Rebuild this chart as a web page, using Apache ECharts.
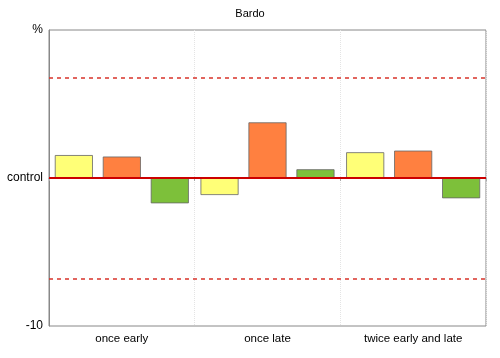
<!DOCTYPE html>
<html><head><meta charset="utf-8">
<script src="https://cdn.jsdelivr.net/npm/echarts@6/dist/echarts.min.js"></script>
<style>html,body{margin:0;padding:0;background:#fff}#c{width:500px;height:358px}</style>
</head><body><div id="c"></div>
<script>
var title = "Bardo";
var categories = ["once early", "once late", "twice early and late"];
var yellowValues = [1.55, -1.15, 1.74];
var orangeValues = [1.45, 3.76, 1.85];
var greenValues = [-1.71, 0.59, -1.37];
var thresholdValues = [6.78, -6.78];
var controlValue = 0;
var yTickLabels = {"10": "%", "0": "control", "-10": "-10"};

var chart = echarts.init(document.getElementById('c'));
var borderStyle = {borderColor: '#666', borderWidth: 0.8};
function barSeries(data, color) {
  return {type: 'bar', data: data, barGap: '26%', barCategoryGap: '8%',
    itemStyle: Object.assign({color: color}, borderStyle), silent: true};
}
var s1 = barSeries(yellowValues, '#FFFF77');
s1.markLine = {silent: true, symbol: 'none', label: {show: false},
  data: thresholdValues.map(function (v) { return {yAxis: v, lineStyle: {color: '#D8332A', type: [4, 4], width: 1.5}}; })
    .concat([{yAxis: controlValue, lineStyle: {color: '#CC0000', type: 'solid', width: 2}}])};
s1.markLine.z = 5;
chart.setOption({
  animation: false,
  title: {text: title, left: 'center', top: 3, textStyle: {fontSize: 11, fontWeight: 'normal', color: '#000', fontFamily: 'Liberation Sans'}},
  grid: {left: 49, right: 14, top: 30, bottom: 32, show: true, borderColor: '#888', borderWidth: 1},
  xAxis: {type: 'category', data: categories,
    axisLine: {show: true, lineStyle: {color: '#888'}},
    axisTick: {show: true, alignWithLabel: false, length: 3, lineStyle: {color: '#aaa'}},
    splitLine: {show: true, lineStyle: {color: '#e4e4e4', type: 'dotted'}},
    axisLabel: {color: '#000', fontSize: 11.5, fontFamily: 'Liberation Sans', margin: 7}},
  yAxis: {type: 'value', min: -10, max: 10, interval: 10,
    axisLine: {show: true, lineStyle: {color: '#888'}},
    axisTick: {show: false}, splitLine: {show: false},
    axisLabel: {color: '#000', fontSize: 12, fontFamily: 'Liberation Sans', margin: 6,
      formatter: function (v) { return yTickLabels[String(v)]; }}},
  series: [s1, barSeries(orangeValues, '#FF8040'), barSeries(greenValues, '#7DC03A')]
});
</script></body></html>
